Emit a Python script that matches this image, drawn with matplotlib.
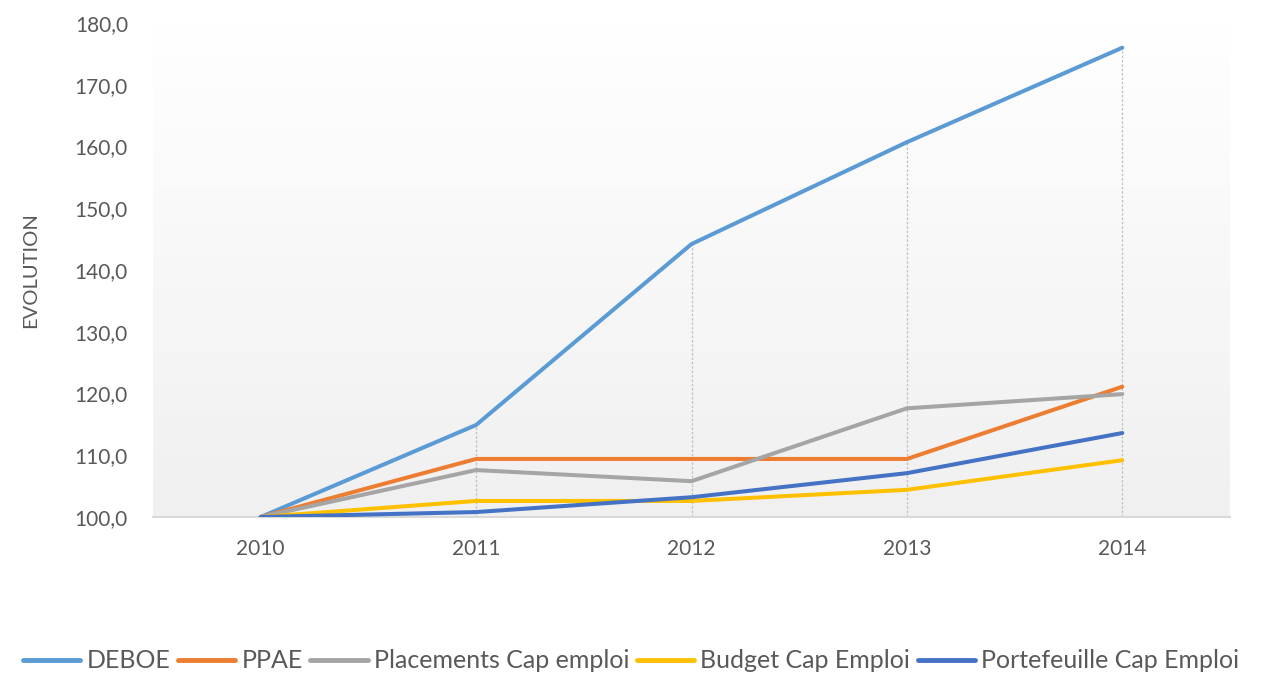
import numpy as np
import matplotlib
matplotlib.use("Agg")
import matplotlib.pyplot as plt

# Données (base 100 en 2010)
annees = ["2010", "2011", "2012", "2013", "2014"]
deboe = [100.0, 114.9, 144.2, 160.7, 176.0]
ppae = [100.0, 109.4, 109.4, 109.4, 121.1]
placements = [100.0, 107.6, 105.8, 117.6, 119.9]
budget = [100.0, 102.6, 102.6, 104.4, 109.2]
portefeuille = [100.0, 100.8, 103.2, 107.1, 113.6]

noms = ["DEBOE", "PPAE", "Placements Cap emploi", "Budget Cap Emploi", "Portefeuille Cap Emploi"]
couleurs = ["#5B9BD5", "#ED7D31", "#A5A5A5", "#FFC000", "#4472C4"]
series = [deboe, ppae, placements, budget, portefeuille]

plt.rcParams['font.family'] = ['Lato', 'DejaVu Sans']
gris_texte = "#595959"

fig = plt.figure(figsize=(12.62, 6.74), dpi=100)
ax = fig.add_axes([153 / 1262, 157 / 674, 1077 / 1262, 494 / 674])

x = np.arange(len(annees))

# Fond en dégradé (blanc en haut, gris clair en bas)
degrade = np.linspace(0, 1, 256).reshape(-1, 1)
ax.imshow(degrade, extent=[0, 1, 0, 1], transform=ax.transAxes, aspect='auto',
          cmap=matplotlib.colors.LinearSegmentedColormap.from_list("g", ["#f0f0f0", "#ffffff"]),
          origin='lower', zorder=0)

# Lignes de projection verticales
haut = np.max(np.array(series), axis=0)
ax.vlines(x, 100, haut, colors="#bfbfbf", linestyles=(0, (2, 1.5)), linewidth=0.9, zorder=1)

lignes = []
for nom, c, s in zip(noms, couleurs, series):
    l, = ax.plot(x, s, color=c, linewidth=2.9, solid_capstyle='round',
                 solid_joinstyle='round', label=nom, zorder=3)
    lignes.append(l)

ax.set_xlim(-0.5, 4.5)
ax.set_ylim(100, 180)
ax.set_xticks(x)
ax.set_xticklabels(annees)
ax.set_yticks(np.arange(100, 181, 10))
ax.set_yticklabels([f"{v:.1f}".replace(".", ",") for v in np.arange(100, 181, 10)])
ax.tick_params(axis='both', length=0, labelsize=15, colors=gris_texte)
ax.tick_params(axis='x', pad=16)
ax.tick_params(axis='y', pad=18)

for cote in ["left", "right", "top"]:
    ax.spines[cote].set_visible(False)
ax.spines["bottom"].set_color("#d9d9d9")
ax.spines["bottom"].set_linewidth(1.5)
ax.spines["bottom"].set_zorder(2)

ax.set_ylabel("EVOLUTION", fontsize=14.5, color=gris_texte, labelpad=26)

fig.legend(handles=lignes, loc='center', bbox_to_anchor=(0.5, 13 / 674), ncol=5,
           frameon=False, fontsize=18, labelcolor=gris_texte, handlelength=2.3,
           handletextpad=0.25, columnspacing=0.3, borderaxespad=0)
for h in fig.legends[0].legend_handles:
    h.set_linewidth(3.5)

fig.savefig("out.png", dpi=100)
